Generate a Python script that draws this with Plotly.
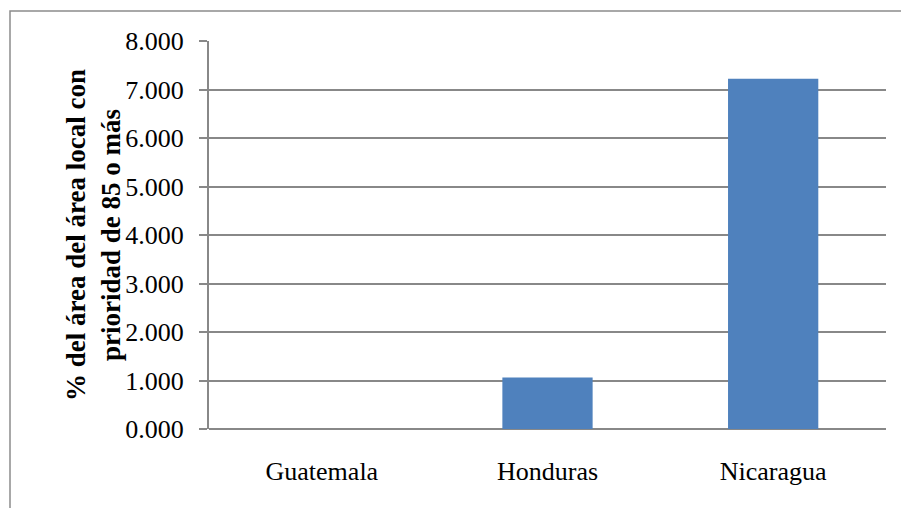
import plotly.graph_objects as go

categories = ["Guatemala", "Honduras", "Nicaragua"]
values = [0.0, 1.06, 7.22]
y_ticks = [0, 1, 2, 3, 4, 5, 6, 7, 8]
y_title = "% del área del área local con<br>prioridad de 85 o más"

W, H = 901, 508
L, R, T, B = 209, 15, 41, 79
pw = W - L - R
ph = H - T - B

grid_col = "#888888"
font_fam = "Times New Roman"

fig = go.Figure()
fig.add_trace(go.Bar(
    x=categories, y=values,
    marker=dict(color="#4F81BD", line=dict(width=0)),
    width=0.4,
))

fig.update_layout(
    width=W, height=H,
    margin=dict(l=L, r=R, t=T, b=B, pad=0),
    paper_bgcolor="white", plot_bgcolor="white",
    showlegend=False,
    font=dict(family=font_fam, size=26, color="black"),
    bargap=0.6,
)
fig.update_xaxes(
    showgrid=False, showline=False, zeroline=False,
    ticks="", ticklabelstandoff=24,
    tickfont=dict(family=font_fam, size=26, color="black"),
)
fig.update_yaxes(
    range=[0, 8], tickvals=y_ticks,
    ticktext=[f"{v:.3f}" for v in y_ticks],
    showgrid=True, gridcolor=grid_col, gridwidth=1.5,
    zeroline=True, zerolinecolor=grid_col, zerolinewidth=2,
    showline=True, linecolor=grid_col, linewidth=2,
    ticks="outside", ticklen=8, tickcolor=grid_col, tickwidth=2,
    ticklabelstandoff=10,
    tickfont=dict(family=font_fam, size=26, color="black"),
)

# outer chart border
fig.add_shape(type="rect", xref="paper", yref="paper",
              x0=(10 - L) / pw, x1=(W + 20 - L) / pw,
              y0=-(H + 20 - T - ph) / ph, y1=(H - 11 - B) / ph,
              line=dict(color="#8c8c8c", width=1.5), fillcolor="rgba(0,0,0,0)",
              layer="below")

fig.add_annotation(
    text="<b>" + y_title + "</b>", textangle=-90,
    xref="paper", yref="paper",
    x=(93 - L) / pw, y=0.5, xanchor="center", yanchor="middle",
    showarrow=False, align="center",
    font=dict(family=font_fam, size=27, color="black"),
)

fig.write_html("out.html")
